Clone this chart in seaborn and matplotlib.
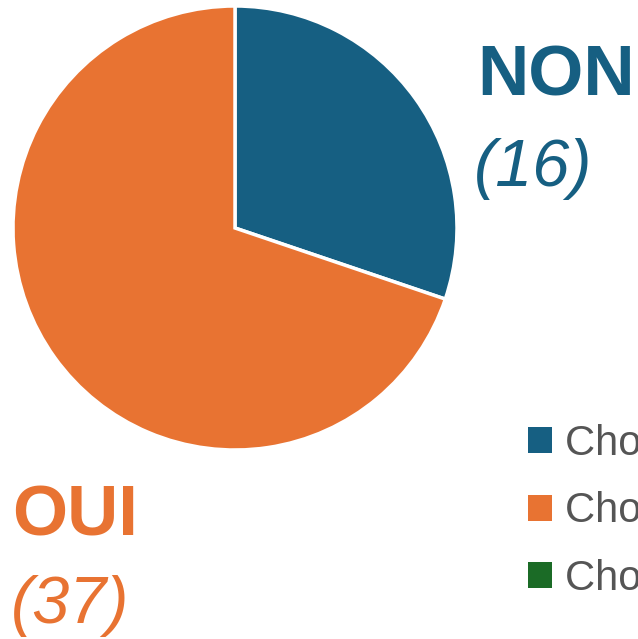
import seaborn as sns
import matplotlib.pyplot as plt
from matplotlib.patches import Patch

# data
categories = ['NON', 'OUI', 'SANS AVIS']
counts = [16, 37, 0]
legend_labels = ['Choix NON', 'Choix OUI', 'Choix sans avis']
colors = ['#165f82', '#e87332', '#1b6b26']

sns.set_theme(style='white')
plt.rcParams['font.family'] = ['Liberation Sans', 'DejaVu Sans']

W, H = 638, 639
fig = plt.figure(figsize=(W / 100, H / 100), dpi=100)

# pie axes placed in pixels
ax = fig.add_axes([13 / W, (H - 450) / H, 444 / W, 444 / H])
ax.pie(counts[:2], colors=colors[:2], startangle=90, counterclock=False,
       radius=1, wedgeprops={'edgecolor': 'white', 'linewidth': 2.5})
ax.set_xlim(-1, 1)
ax.set_ylim(-1, 1)
ax.set_aspect('equal')
ax.axis('off')

# big labels
def ptext(x, y, s, **kw):
    fig.text(x / W, 1 - y / H, s, va='baseline', ha='left', **kw)

ptext(477, 95, categories[0], color=colors[0], fontsize=51, fontweight='bold')
ptext(474, 186, '(%d)' % counts[0], color=colors[0], fontsize=48, fontstyle='italic')
ptext(12, 535, categories[1], color=colors[1], fontsize=51, fontweight='bold')
ptext(11, 623, '(%d)' % counts[1], color=colors[1], fontsize=48, fontstyle='italic')

# legend
handles = [Patch(facecolor=c, edgecolor='none') for c in colors]
fig.legend(handles, legend_labels, loc='upper left',
           bbox_to_anchor=(528 / W, 1 - 424 / H), frameon=False,
           fontsize=30, labelcolor='#555555', borderpad=0,
           handlelength=0.58, handleheight=0.58, handletextpad=0.3,
           labelspacing=0.66, borderaxespad=0)

fig.savefig('out.png', dpi=100)
